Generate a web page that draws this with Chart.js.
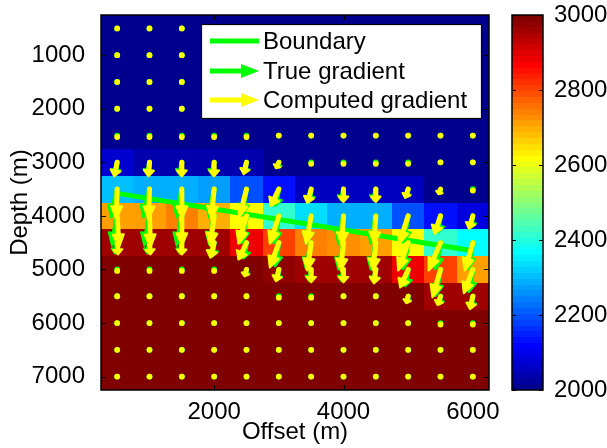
<!DOCTYPE html>
<html>
<head>
<meta charset="utf-8">
<script src="https://cdn.jsdelivr.net/npm/chart.js@4.4.0/dist/chart.umd.min.js"></script>
<style>
  html, body { margin: 0; padding: 0; background: #fff; }
  #wrap { position: relative; width: 607px; height: 448px; }
  canvas { position: absolute; top: 0; }
</style>
</head>
<body>
<div id="wrap">
  <canvas id="main" width="607" height="448" style="left:0"></canvas>
  <canvas id="cbar" width="107" height="448" style="left:500px"></canvas>
</div>
<script>
// grid of the model (cell centres, m)
const offsets = [500, 1000, 1500, 2000, 2500, 3000, 3500, 4000, 4500, 5000, 5500, 6000];
const depths = [500, 1000, 1500, 2000, 2500, 3000, 3500, 4000, 4500, 5000, 5500, 6000, 6500, 7000];

// velocity (m/s), one row per depth
const velocityRows = [
  [2000, 2000, 2000, 2000, 2000, 2000, 2000, 2000, 2000, 2000, 2000, 2000],
  [2000, 2000, 2000, 2000, 2000, 2000, 2000, 2000, 2000, 2000, 2000, 2000],
  [2000, 2000, 2000, 2000, 2000, 2000, 2000, 2000, 2000, 2000, 2000, 2000],
  [2000, 2000, 2000, 2000, 2000, 2000, 2000, 2000, 2000, 2000, 2000, 2000],
  [2000, 2000, 2000, 2000, 2000, 2000, 2000, 2000, 2000, 2000, 2000, 2000],
  [2075, 2035, 2035, 2035, 2035, 2015, 2000, 2000, 2000, 2000, 2000, 2000],
  [2300, 2290, 2290, 2280, 2200, 2130, 2050, 2050, 2050, 2050, 2000, 2000],
  [2710, 2710, 2735, 2700, 2610, 2410, 2340, 2285, 2285, 2200, 2125, 2085],
  [2965, 2965, 2965, 2965, 2890, 2810, 2740, 2730, 2705, 2610, 2420, 2360],
  [3000, 3000, 3000, 3000, 3000, 2975, 2965, 2965, 2965, 2885, 2810, 2710],
  [3000, 3000, 3000, 3000, 3000, 3000, 3000, 3000, 3000, 3000, 2965, 2965],
  [3000, 3000, 3000, 3000, 3000, 3000, 3000, 3000, 3000, 3000, 3000, 3000],
  [3000, 3000, 3000, 3000, 3000, 3000, 3000, 3000, 3000, 3000, 3000, 3000],
  [3000, 3000, 3000, 3000, 3000, 3000, 3000, 3000, 3000, 3000, 3000, 3000]
];

// gradient arrows (scaled to m), only rows near the boundary are non zero
const gradDepths = [2500, 3000, 3500, 4000, 4500, 5000, 5500, 6000];
const compU = [
  [0, 0, 0, 0, 0, 0, 0, 0, 0, 0, 0, 0],
  [-45, -15, 0, 0, -45, -45, 0, 0, 0, 0, 0, 0],
  [-15, -15, 0, -45, -110, -125, -60, 0, 0, -45, -30, 0],
  [30, 15, 0, -60, -125, -140, -80, -30, -30, -140, -95, -60],
  [15, 15, 0, -60, -125, -140, -60, -45, -45, -155, -185, -125],
  [0, 0, 0, 0, -30, -45, 0, 0, -30, -125, -125, -140],
  [0, 0, 0, 0, 0, 0, 0, 0, 0, -30, -45, -45],
  [0, 0, 0, 0, 0, 0, 0, 0, 0, 0, 0, 0]
];
const compW = [
  [55, 55, 55, 55, 55, 0, 0, 0, 0, 0, 0, 0],
  [260, 260, 260, 260, 220, 110, 55, 55, 55, 55, 0, 0],
  [555, 555, 555, 555, 520, 315, 260, 240, 240, 165, 95, 55],
  [590, 590, 555, 555, 520, 520, 520, 535, 520, 520, 335, 240],
  [220, 220, 220, 280, 315, 465, 520, 520, 520, 520, 520, 520],
  [55, 55, 55, 55, 130, 220, 240, 240, 260, 335, 520, 445],
  [0, 0, 0, 0, 0, 55, 55, 0, 0, 130, 165, 240],
  [0, 0, 0, 0, 0, 0, 0, 0, 0, 0, 55, 55]
];
const trueU = [
  [0, 0, 0, 0, 0, 0, 0, 0, 0, 0, 0, 0],
  [-30, -30, -30, -30, -30, -15, 0, 0, 0, 0, 0, 0],
  [-95, -95, -80, -80, -80, -60, -30, -30, -30, -30, -15, 0],
  [-80, -80, -80, -80, -80, -80, -80, -80, -80, -80, -45, -30],
  [-30, -30, -30, -30, -45, -60, -80, -80, -80, -80, -80, -80],
  [0, 0, 0, 0, -15, -30, -30, -30, -30, -45, -80, -60],
  [0, 0, 0, 0, 0, 0, 0, 0, 0, -15, -15, -30],
  [0, 0, 0, 0, 0, 0, 0, 0, 0, 0, 0, 0]
];
const trueW = [
  [0, 0, 0, 0, 0, 0, 0, 0, 0, 0, 0, 0],
  [240, 240, 240, 240, 205, 95, 0, 0, 0, 0, 0, 0],
  [535, 535, 535, 535, 500, 315, 240, 220, 220, 150, 75, 0],
  [555, 555, 555, 535, 520, 520, 520, 520, 520, 500, 315, 220],
  [205, 205, 205, 260, 295, 445, 500, 500, 500, 500, 500, 500],
  [0, 0, 0, 0, 110, 205, 220, 220, 240, 315, 500, 425],
  [0, 0, 0, 0, 0, 0, 0, 0, 0, 110, 150, 220],
  [0, 0, 0, 0, 0, 0, 0, 0, 0, 0, 0, 0]
];

const boundaryX = [500, 6000];
const boundaryZ = [3580, 4650];

const xTicks = [2000, 4000, 6000];
const yTicks = [1000, 2000, 3000, 4000, 5000, 6000, 7000];
const cbTicks = [2000, 2200, 2400, 2600, 2800, 3000];
const legendLabels = ['Boundary', 'True gradient', 'Computed gradient'];

const vMin = 2000, vMax = 3000, nColors = 64;
const GREEN = '#00ff00', YELLOW = '#ffff00';
const FONT = { family: '"Liberation Sans", Arial, sans-serif', size: 24 };
const plain = v => String(v);

function noPad(s) {
    // keep the plot box where the layout padding puts it
    s.paddingTop = 0; s.paddingBottom = 0; s.paddingLeft = 0; s.paddingRight = 0;
}

function jet(k) {
    // k = 1..64, same shape as matlab jet(64)
    const t = k / nColors;
    const c = v => Math.round(255 * Math.max(0, Math.min(1, v)));
    return 'rgb(' + c(1.5 - Math.abs(4 * t - 3)) + ',' + c(1.5 - Math.abs(4 * t - 2)) + ',' + c(1.5 - Math.abs(4 * t - 1)) + ')';
}

function colorFor(v) {
    let k = Math.floor((v - vMin) / (vMax - vMin) * nColors) + 1;
    k = Math.max(1, Math.min(nColors, k));
    return jet(k);
}

function drawArrow(ctx, x0, y0, x1, y1, color) {
    const dx = x1 - x0, dy = y1 - y0;
    const L = Math.hypot(dx, dy);
    ctx.fillStyle = color;
    ctx.strokeStyle = color;
    if (L < 5) {
        ctx.beginPath();
        ctx.arc((x0 + x1) / 2, (y0 + y1) / 2, 2.9, 0, 2 * Math.PI);
        ctx.fill();
        return;
    }
    const ux = dx / L, uy = dy / L;
    const hl = Math.min(13, 0.42 * L);
    const hw = Math.min(5.5, 0.18 * L + 2.5);
    const bx = x1 - ux * hl, by = y1 - uy * hl;
    ctx.lineWidth = 5;
    ctx.lineCap = 'round';
    ctx.lineJoin = 'round';
    ctx.beginPath();
    ctx.moveTo(x0, y0);
    ctx.lineTo(bx, by);
    ctx.stroke();
    ctx.lineWidth = 2;
    ctx.beginPath();
    ctx.moveTo(x1, y1);
    ctx.lineTo(bx - uy * hw, by + ux * hw);
    ctx.lineTo(bx + uy * hw, by - ux * hw);
    ctx.closePath();
    ctx.fill();
    ctx.stroke();
}

const heatmapPlugin = {
    id: 'heatmap',
    beforeDatasetsDraw(chart) {
        const ctx = chart.ctx, xs = chart.scales.x, ys = chart.scales.y;
        ctx.save();
        depths.forEach((d, r) => {
            offsets.forEach((o, c) => {
                const x0 = Math.round(xs.getPixelForValue(o - 250));
                const x1 = Math.round(xs.getPixelForValue(o + 250));
                const y0 = Math.round(ys.getPixelForValue(d - 250));
                const y1 = Math.round(ys.getPixelForValue(d + 250));
                ctx.fillStyle = colorFor(velocityRows[r][c]);
                ctx.fillRect(x0, y0, x1 - x0, y1 - y0);
            });
        });
        ctx.restore();
    }
};

const arrowPlugin = {
    id: 'arrows',
    afterDatasetsDraw(chart) {
        const ctx = chart.ctx, xs = chart.scales.x, ys = chart.scales.y;
        ctx.save();
        const layers = [[trueU, trueW, GREEN], [compU, compW, YELLOW]];
        layers.forEach(([U, W, color]) => {
            depths.forEach(d => {
                const gi = gradDepths.indexOf(d);
                offsets.forEach((o, c) => {
                    const u = gi >= 0 ? U[gi][c] : 0;
                    const w = gi >= 0 ? W[gi][c] : 0;
                    drawArrow(ctx, xs.getPixelForValue(o), ys.getPixelForValue(d),
                        xs.getPixelForValue(o + u), ys.getPixelForValue(d + w), color);
                });
            });
        });
        ctx.restore();
    }
};

const framePlugin = {
    id: 'frame',
    afterDraw(chart) {
        const ctx = chart.ctx, a = chart.chartArea, xs = chart.scales.x, ys = chart.scales.y;
        ctx.save();
        ctx.strokeStyle = '#000';
        ctx.lineWidth = 1;
        ctx.beginPath();
        xTicks.forEach(v => {
            const px = Math.round(xs.getPixelForValue(v)) + 0.5;
            ctx.moveTo(px, a.bottom); ctx.lineTo(px, a.bottom - 5);
            ctx.moveTo(px, a.top); ctx.lineTo(px, a.top + 5);
        });
        yTicks.forEach(v => {
            const py = Math.round(ys.getPixelForValue(v)) + 0.5;
            ctx.moveTo(a.left, py); ctx.lineTo(a.left + 5, py);
            ctx.moveTo(a.right, py); ctx.lineTo(a.right - 5, py);
        });
        ctx.stroke();
        ctx.lineWidth = 1.5;
        ctx.strokeRect(a.left, a.top, a.right - a.left, a.bottom - a.top);

        // legend box, upper right inside the axes
        const lx = a.right - 288, ly = a.top + 9, lw = 280, lh = 94;
        ctx.fillStyle = '#fff';
        ctx.fillRect(lx, ly, lw, lh);
        ctx.lineWidth = 1.2;
        ctx.strokeStyle = '#000';
        ctx.strokeRect(lx + 0.5, ly + 0.5, lw, lh);
        const rowsY = [ly + 17, ly + 47, ly + 76];
        const sx0 = lx + 9, sx1 = lx + 58;
        ctx.strokeStyle = GREEN;
        ctx.lineWidth = 5;
        ctx.beginPath();
        ctx.moveTo(sx0, rowsY[0]);
        ctx.lineTo(sx1, rowsY[0]);
        ctx.stroke();
        [GREEN, YELLOW].forEach((col, i) => {
            const yy = rowsY[i + 1];
            ctx.strokeStyle = col;
            ctx.fillStyle = col;
            ctx.lineWidth = 5;
            ctx.beginPath();
            ctx.moveTo(sx0, yy);
            ctx.lineTo(sx1 - 16, yy);
            ctx.stroke();
            ctx.beginPath();
            ctx.moveTo(sx1, yy);
            ctx.lineTo(sx1 - 18, yy - 7);
            ctx.lineTo(sx1 - 18, yy + 7);
            ctx.closePath();
            ctx.fill();
        });
        ctx.fillStyle = '#000';
        ctx.font = FONT.size + 'px ' + FONT.family;
        ctx.textBaseline = 'middle';
        ctx.textAlign = 'left';
        legendLabels.forEach((t, i) => ctx.fillText(t, lx + 62, rowsY[i] + 1));
        ctx.restore();
    }
};

new Chart(document.getElementById('main'), {
    type: 'scatter',
    data: {
        datasets: [{
            label: legendLabels[0],
            data: boundaryX.map((x, i) => ({ x: x, y: boundaryZ[i] })),
            showLine: true,
            borderColor: GREEN,
            borderWidth: 5,
            pointRadius: 0
        }]
    },
    options: {
        responsive: false,
        animation: false,
        devicePixelRatio: 1,
        layout: { autoPadding: false, padding: { top: 15, right: 118, left: 0, bottom: 0 } },
        plugins: { legend: { display: false }, tooltip: { enabled: false } },
        scales: {
            x: {
                type: 'linear', min: 250, max: 6250,
                afterBuildTicks: s => { s.ticks = xTicks.map(v => ({ value: v })); },
                afterFit: s => { s.height = 58; noPad(s); },
                grid: { display: false },
                border: { display: false },
                ticks: { font: FONT, color: '#000', padding: 0, maxRotation: 0, callback: plain },
                title: { display: true, text: 'Offset (m)', font: FONT, color: '#000', padding: { top: 0, bottom: 1 } }
            },
            y: {
                type: 'linear', reverse: true, min: 250, max: 7250,
                afterBuildTicks: s => { s.ticks = yTicks.map(v => ({ value: v })); },
                afterFit: s => { s.width = 101; noPad(s); },
                grid: { display: false },
                border: { display: false },
                ticks: { font: FONT, color: '#000', padding: 8, callback: plain },
                title: { display: true, text: 'Depth (m)', font: FONT, color: '#000', padding: { top: 6, bottom: 0 } }
            }
        }
    },
    plugins: [heatmapPlugin, arrowPlugin, framePlugin]
});

const colorbarPlugin = {
    id: 'colorbar',
    beforeDatasetsDraw(chart) {
        const ctx = chart.ctx, a = chart.chartArea, ys = chart.scales.y;
        ctx.save();
        const step = (vMax - vMin) / nColors;
        for (let k = 1; k <= nColors; k++) {
            const y0 = Math.round(ys.getPixelForValue(vMin + (k - 1) * step));
            const y1 = Math.round(ys.getPixelForValue(vMin + k * step));
            ctx.fillStyle = jet(k);
            ctx.fillRect(a.left, y1, a.right - a.left, y0 - y1);
        }
        ctx.strokeStyle = '#000';
        ctx.lineWidth = 1;
        ctx.beginPath();
        cbTicks.forEach(v => {
            const py = Math.round(ys.getPixelForValue(v)) + 0.5;
            ctx.moveTo(a.left, py); ctx.lineTo(a.left + 4, py);
            ctx.moveTo(a.right, py); ctx.lineTo(a.right - 4, py);
        });
        ctx.stroke();
        ctx.lineWidth = 1.5;
        ctx.strokeRect(a.left, a.top, a.right - a.left, a.bottom - a.top);
        ctx.restore();
    }
};

new Chart(document.getElementById('cbar'), {
    type: 'scatter',
    data: { datasets: [] },
    options: {
        responsive: false,
        animation: false,
        devicePixelRatio: 1,
        layout: { autoPadding: false, padding: { top: 15, bottom: 58, left: 12, right: 0 } },
        plugins: { legend: { display: false }, tooltip: { enabled: false } },
        scales: {
            x: { display: false, min: 0, max: 1 },
            y: {
                position: 'right', min: vMin, max: vMax,
                afterBuildTicks: s => { s.ticks = cbTicks.map(v => ({ value: v })); },
                afterFit: s => { s.width = 64; noPad(s); },
                grid: { display: false },
                border: { display: false },
                ticks: { font: FONT, color: '#000', padding: 3, callback: plain }
            }
        }
    },
    plugins: [colorbarPlugin]
});
</script>
</body>
</html>
